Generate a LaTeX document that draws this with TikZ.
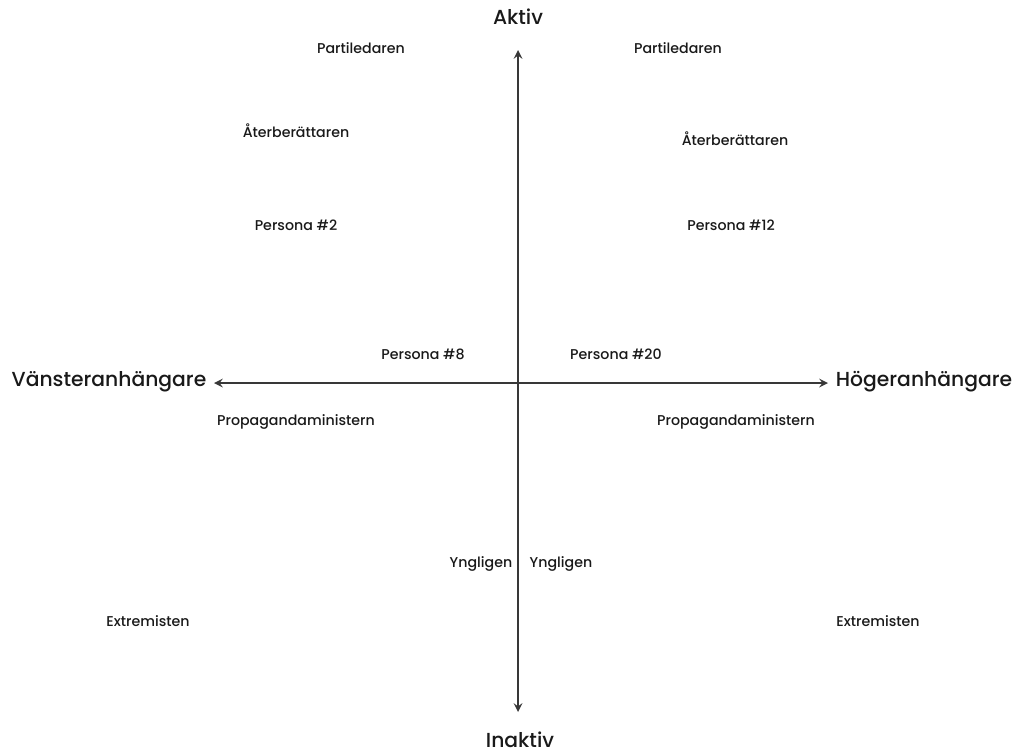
\documentclass[tikz,border=0pt]{standalone}
\usepackage{fontspec}
\setmainfont{Poppins}[UprightFont=* Medium]
\usepackage{tikz}

\begin{document}
\begin{tikzpicture}[x=1pt, y=-1pt]
\useasboundingbox (0,0) rectangle (1014,753);
\tikzset{lbl/.style={font=\fontsize{14.2}{16}\selectfont, text=black!90},
  axlbl/.style={font=\fontsize{20.3}{24}\selectfont, text=black!90}}
\coordinate (t) at (518,50);
\coordinate (u) at (518,712);
\coordinate (l) at (214,383);
\coordinate (r) at (828,383);
\draw[line width=2.8pt, black!78, <->, >=stealth] (t) -- (u);
\draw[line width=2.8pt, black!78, <->, >=stealth] (l) -- (r);
\node[axlbl] (a) at (518,17) {Aktiv};
\node[axlbl] (b) at (520,740) {Inaktiv};
\node[axlbl] (c) at (109,382) {Vänsteranhängare};
\node[axlbl] (d) at (924,382) {Högeranhängare};
\node[lbl] (e) at (361,48) {Partiledaren};
\node[lbl] (f) at (678,48) {Partiledaren};
\node[lbl] (g) at (296,131) {Återberättaren};
\node[lbl] (h) at (735,139) {Återberättaren};
\node[lbl] (i) at (296,225) {Persona \#2};
\node[lbl] (j) at (731,225) {Persona \#12};
\node[lbl] (k) at (423,354) {Persona \#8};
\node[lbl] (m) at (616,354) {Persona \#20};
\node[lbl] (n) at (296,422) {Propagandaministern};
\node[lbl] (o) at (736,422) {Propagandaministern};
\node[lbl] (p) at (481,564) {Yngligen};
\node[lbl] (q) at (561,564) {Yngligen};
\node[lbl] (s) at (148,621) {Extremisten};
\node[lbl] (v) at (878,621) {Extremisten};
\end{tikzpicture}
\end{document}
